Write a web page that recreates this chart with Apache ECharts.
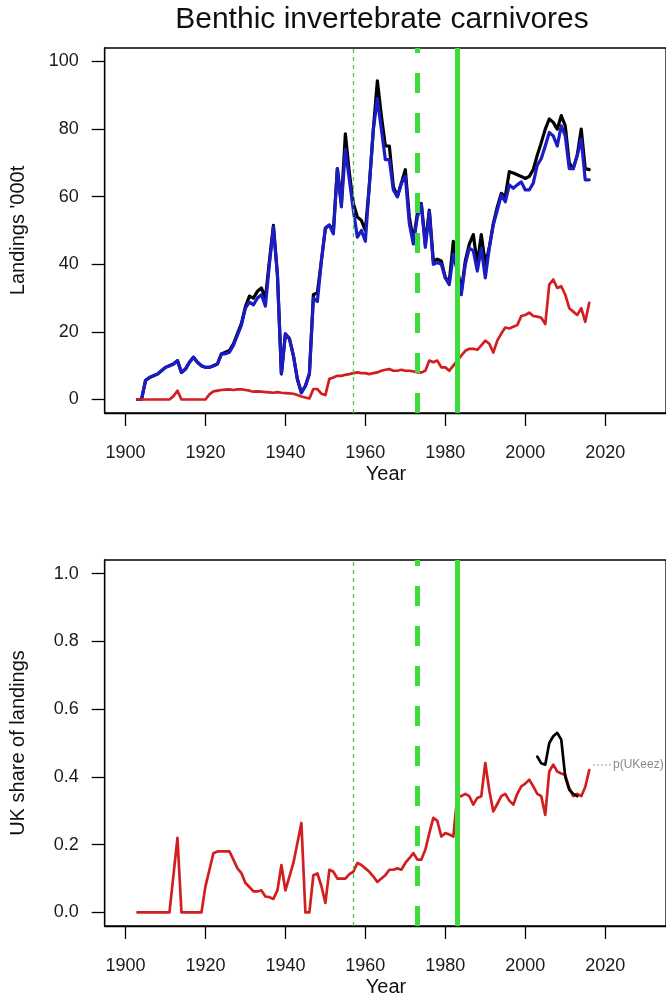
<!DOCTYPE html>
<html><head><meta charset="utf-8">
<script src="https://cdn.jsdelivr.net/npm/echarts@6/dist/echarts.min.js"></script>
<style>html,body{margin:0;padding:0;background:#fff}#c{width:666px;height:1000px}</style>
</head><body><div id="c"></div>
<script>
const years = [
1903,1904,1905,1906,1907,1908,1909,1910,1911,1912,
1913,1914,1915,1916,1917,1918,1919,1920,1921,1922,
1923,1924,1925,1926,1927,1928,1929,1930,1931,1932,
1933,1934,1935,1936,1937,1938,1939,1940,1941,1942,
1943,1944,1945,1946,1947,1948,1949,1950,1951,1952,
1953,1954,1955,1956,1957,1958,1959,1960,1961,1962,
1963,1964,1965,1966,1967,1968,1969,1970,1971,1972,
1973,1974,1975,1976,1977,1978,1979,1980,1981,1982,
1983,1984,1985,1986,1987,1988,1989,1990,1991,1992,
1993,1994,1995,1996,1997,1998,1999,2000,2001,2002,
2003,2004,2005,2006,2007,2008,2009,2010,2011,2012,
2013,2014,2015,2016];

// Landings '000t (black)
const totalLandings = [
0,0,5.6,6.5,7,7.5,8.5,9.5,10,10.5,
11.5,8,9,11,12.5,11,10,9.5,9.5,10,
10.5,13.5,14,14.5,16.5,19.5,22.5,27.5,30.6,30,
32,33,30,41,51.5,37,7.6,19.4,18,13,
6,2,4,7.6,31,31.6,41,50.7,51.6,50,
68.3,58,78.6,67,58,54,53,50,63.5,80,
94.3,84,75,75,63,60,64,68,54,47,
55,58,46,56,41,41.5,41,36,35,46.8,
39,32,41,46,48.8,40,48.8,40,45,52,
57,61,60,67.4,67,66.5,66,65.4,66,68,
72.3,76,80,83,82,80,84,81,70,68.3,
72.3,80,68.3,68];

// Landings '000t (blue)
const blueLandings = [
0,0,5.6,6.5,7,7.5,8.5,9.5,10,10.5,
11.5,8,9,11,12.5,11,10,9.5,9.5,10,
10.5,13.5,13.5,14,16,19,22,27,28.8,28,
30,31,27.6,40,51,37,7.6,19.4,18,13,
6,2,4,7.6,30,29,41,50.7,51.6,49,
68.3,57,74,65,56,48,50,46.8,63.5,80,
89,80,71,71,62,60,64,66,52,46,
54,57.6,45,55.6,40,40.5,40,36,34,43,
38,31,40,44.8,44,38,44.8,36,44.8,51.7,
56,60.5,58.5,63.5,62.5,63.5,64.4,62,62,64,
69.3,71.3,75,79,78,75,81,78,68.3,68.3,
72.3,77,65,65];

// Landings '000t (red, UK)
const ukLandings = [
0,0,0,0,0,0,0,0,0,1,
2.6,0,0,0,0,0,0,0,1.5,2.4,
2.6,2.8,2.9,3,2.8,3,3,2.8,2.6,2.3,
2.4,2.3,2.2,2.1,2.0,2.2,2.0,1.9,1.8,1.7,
1.3,0.9,0.6,0.3,3.1,3.1,1.7,1.3,6.1,6.5,
7,7,7.3,7.5,7.8,8,7.8,7.8,7.5,7.8,
8,8.5,8.8,9,8.5,8.5,8.8,8.5,8.5,8.3,
8,8,8.5,11.5,11,11.5,9.5,9.5,8.5,10,
11.5,13,14.4,15,15,14.7,16,17.4,16.5,13.9,
17.4,19.5,21.3,21,21.5,22,24.7,25,25.7,24.7,
24.5,24.2,22.3,34,35.5,33,33.5,31,27,26,
25,27,23,28.6];

// UK share of landings (red)
const ukShare = [
0,0,0,0,0,0,0,0,0,0.11,
0.22,0,0,0,0,0,0,0.077,0.126,0.175,
0.18,0.18,0.18,0.18,0.156,0.13,0.116,0.087,0.075,0.062,
0.062,0.065,0.047,0.045,0.04,0.065,0.14,0.065,0.106,0.146,
0.205,0.264,0,0,0.11,0.115,0.078,0.028,0.126,0.12,
0.1,0.1,0.1,0.113,0.12,0.146,0.14,0.13,0.12,0.106,
0.09,0.1,0.11,0.126,0.126,0.13,0.126,0.146,0.16,0.175,
0.156,0.156,0.185,0.234,0.279,0.27,0.224,0.234,0.23,0.224,
0.343,0.343,0.35,0.343,0.318,0.338,0.343,0.441,0.36,0.298,
0.32,0.343,0.35,0.33,0.318,0.35,0.372,0.38,0.392,0.372,
0.35,0.343,0.288,0.416,0.436,0.416,0.41,0.406,0.367,0.343,
0.35,0.343,0.37,0.42];

// p(UKeez) (black)
const eezYears = [2003,2004,2005,2006,2007,2008,2009,2010,2011,2012,2013];
const eezShare = [0.46,0.44,0.436,0.5,0.52,0.53,0.51,0.4,0.362,0.35,0.343];

const xTicks = [1900,1920,1940,1960,1980,2000,2020];
const yTicksTop = [0,20,40,60,80,100];
const yTicksBottom = [0,0.2,0.4,0.6,0.8,1.0];
const regimeThin = 1957, regimeDashed = 1973, regimeSolid = 1983;

const FONT = "'Liberation Sans', Arial, sans-serif";
const pairs = (xs, vs) => xs.map((x, i) => [x, vs[i]]);

const chart = echarts.init(document.getElementById('c'), null, {renderer: 'canvas'});

function xAxisCfg(gi) {
  return {
    type: 'value', gridIndex: gi, min: 1894.8, max: 2035.2,
    axisLine: {show: true, onZero: false, lineStyle: {color: '#000', width: 1.3}},
    axisTick: {show: true, customValues: xTicks, length: 13, lineStyle: {color: '#000', width: 1.3}},
    axisLabel: {customValues: xTicks, margin: 31, fontSize: 18, color: '#1a1a1a', fontFamily: FONT, formatter: v => String(v)},
    splitLine: {show: false}
  };
}
function yAxisCfg(gi, min, max, ticks, fmt) {
  return {
    type: 'value', gridIndex: gi, min: min, max: max,
    axisLine: {show: true, onZero: false, lineStyle: {color: '#000', width: 1.3}},
    axisTick: {show: true, customValues: ticks, length: 13, lineStyle: {color: '#000', width: 1.3}},
    axisLabel: {customValues: ticks, margin: 26, fontSize: 18, color: '#1a1a1a', fontFamily: FONT, formatter: fmt},
    splitLine: {show: false}
  };
}
function vlines() {
  return {
    silent: true, symbol: ['none', 'none'], label: {show: false}, animation: false,
    emphasis: {disabled: true},
    data: [
      {xAxis: regimeThin, lineStyle: {color: '#49c949', width: 1.3, type: [4, 4]}},
      {xAxis: regimeDashed, lineStyle: {color: '#3ddc3d', width: 5, type: [20, 20]}},
      {xAxis: regimeSolid, lineStyle: {color: '#3ddc3d', width: 5, type: 'solid'}}
    ]
  };
}
function lineSeries(xi, data, color, width, extra) {
  return Object.assign({
    type: 'line', xAxisIndex: xi, yAxisIndex: xi, data: data,
    showSymbol: false, symbol: 'none', connectNulls: false,
    lineStyle: {color: color, width: width, cap: 'round', join: 'round'}, itemStyle: {color: color},
    emphasis: {disabled: true}, animation: false
  }, extra || {});
}

const option = {
  backgroundColor: '#fff',
  animation: false,
  grid: [
    {left: 104.7, top: 48, width: 585.3, height: 365, show: true, borderColor: '#000', borderWidth: 1.3, containLabel: false},
    {left: 104.7, top: 560, width: 585.3, height: 366, show: true, borderColor: '#000', borderWidth: 1.3, containLabel: false}
  ],
  xAxis: [xAxisCfg(0), xAxisCfg(1)],
  yAxis: [
    yAxisCfg(0, -4, 104, yTicksTop, v => String(v)),
    yAxisCfg(1, -0.04, 1.04, yTicksBottom, v => v.toFixed(1))
  ],
  series: [
    lineSeries(0, pairs(years, totalLandings), '#000000', 3.2),
    lineSeries(0, pairs(years, blueLandings), '#1c1cc4', 3.2, {markLine: vlines()}),
    lineSeries(0, pairs(years, ukLandings), '#d11f1f', 2.7),
    lineSeries(1, pairs(years, ukShare), '#d11f1f', 2.7, {markLine: vlines()}),
    lineSeries(1, pairs(eezYears, eezShare), '#000000', 2.7)
  ],
  graphic: [
    {type: 'text', x: 382, y: 20, style: {text: 'Benthic invertebrate carnivores', font: '30px ' + FONT, fill: '#111', align: 'center', verticalAlign: 'middle'}},
    {type: 'text', x: 386, y: 474, style: {text: 'Year', font: '20px ' + FONT, fill: '#111', align: 'center', verticalAlign: 'middle'}},
    {type: 'text', x: 386, y: 987, style: {text: 'Year', font: '20px ' + FONT, fill: '#111', align: 'center', verticalAlign: 'middle'}},
    {type: 'text', x: 18, y: 230.5, rotation: Math.PI / 2, style: {text: "Landings '000t", font: '20px ' + FONT, fill: '#111', align: 'center', verticalAlign: 'middle'}},
    {type: 'text', x: 18, y: 743, rotation: Math.PI / 2, style: {text: 'UK share of landings', font: '20px ' + FONT, fill: '#111', align: 'center', verticalAlign: 'middle'}},
    {type: 'line', shape: {x1: 593, y1: 765, x2: 612, y2: 765}, style: {stroke: '#999', lineWidth: 1, lineDash: [2, 2]}},
    {type: 'text', x: 613, y: 765, style: {text: 'p(UKeez)', font: '12px ' + FONT, fill: '#888', align: 'left', verticalAlign: 'middle'}}
  ]
};
chart.setOption(option);
</script>
</body></html>
